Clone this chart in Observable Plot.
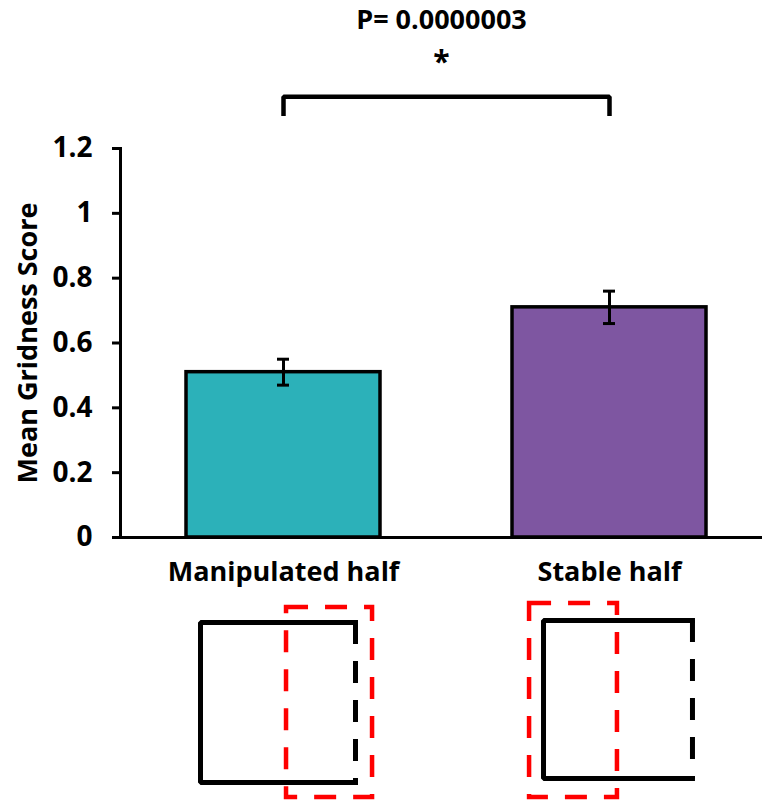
<!DOCTYPE html>
<html>
<head>
<meta charset="utf-8">
<script src="https://cdn.jsdelivr.net/npm/d3@7"></script>
<script src="https://cdn.jsdelivr.net/npm/@observablehq/plot@0.6"></script>
<style>
  html, body { margin: 0; padding: 0; background: #fff; }
  #chart svg { display: block; }
</style>
</head>
<body>
<div id="chart"></div>
<script>
// ---- data ----
const categories = ["Manipulated half", "Stable half"];
const means = [0.51, 0.71];
const errors = [0.04, 0.05];
const barColors = ["#2cb1b9", "#7e56a1"];
const yTicks = [0, 0.2, 0.4, 0.6, 0.8, 1, 1.2];
const yLabel = "Mean Gridness Score";
const pLabel = "P= 0.0000003";
const sigMark = "*";

// annotation levels (in y units)
const bracketY = 1.36;
const bracketDrop = 0.06;
const starY = 1.465;
const pY = 1.595;

const data = categories.map((c, i) => ({cat: c, mean: means[i], err: errors[i]}));
const bracket = [
  {cat: categories[0], y: bracketY - bracketDrop},
  {cat: categories[0], y: bracketY},
  {cat: categories[1], y: bracketY},
  {cat: categories[1], y: bracketY - bracketDrop}
];

const font = "'Open Sans', 'DejaVu Sans', sans-serif";

const main = Plot.plot({
  width: 762,
  height: 595,
  marginTop: 148,
  marginBottom: 58,
  marginLeft: 120,
  marginRight: 0,
  style: {fontFamily: font, fontWeight: "bold", color: "#000", background: "#fff", overflow: "visible"},
  x: {domain: categories, paddingInner: 0.406, paddingOuter: 0.186, align: 0.543, axis: null},
  y: {domain: [0, 1.2], axis: null},
  color: {domain: categories, range: barColors},
  marks: [
    Plot.barY(data, {x: "cat", y: "mean", fill: "cat", stroke: "#000", strokeWidth: 3.5, strokeLinejoin: "miter"}),
    Plot.ruleY([0], {stroke: "#000", strokeWidth: 3}),
    Plot.frame({anchor: "left", stroke: "#000", strokeWidth: 3}),
    Plot.axisY({ticks: yTicks, tickSize: 8, tickPadding: 20, strokeWidth: 3, fontSize: 28,
                tickFormat: d => String(+d.toFixed(1)), label: null}),
    Plot.ruleX(data, {x: "cat", y1: d => d.mean - d.err, y2: d => d.mean + d.err, stroke: "#000", strokeWidth: 3}),
    Plot.tickY(data, {x: "cat", y: d => d.mean - d.err, stroke: "#000", strokeWidth: 3, inset: 91}),
    Plot.tickY(data, {x: "cat", y: d => d.mean + d.err, stroke: "#000", strokeWidth: 3, inset: 91}),
    Plot.line(bracket, {x: "cat", y: "y", stroke: "#000", strokeWidth: 4.5, strokeLinejoin: "miter", strokeLinecap: "butt"}),
    Plot.text([sigMark], {y: starY, text: d => d, fontSize: 30, fill: "#000"}),
    Plot.text([pLabel], {y: pY, text: d => d, fontSize: 27, fill: "#000"}),
    Plot.text(categories, {x: d => d, text: d => d, frameAnchor: "bottom", dy: 43, fontSize: 27, fill: "#000"}),
    Plot.text([yLabel], {frameAnchor: "left", dx: -92, rotate: -90, textAnchor: "middle", text: d => d, fontSize: 27, fill: "#000"})
  ]
});

// ---- schematic arenas under the bars (arena units) ----
const arenas = [
  {panel: categories[0], x1: 0, x2: 1, y1: 0, y2: 1},
  {panel: categories[1], x1: 2.213, x2: 3.174, y1: -0.013, y2: 0.975}
];
const highlights = [
  {panel: categories[0], x1: 0.555, x2: 1.11, y1: -0.094, y2: 1.094},
  {panel: categories[1], x1: 2.123, x2: 2.69, y1: -0.119, y2: 1.094}
];
const solidWalls = arenas.flatMap(a => [
  {panel: a.panel, x: a.x2, y: a.y1},
  {panel: a.panel, x: a.x1, y: a.y1},
  {panel: a.panel, x: a.x1, y: a.y2},
  {panel: a.panel, x: a.x2, y: a.y2}
]);

const diagram = Plot.plot({
  width: 762,
  height: 205,
  margin: 0,
  style: {background: "#fff", overflow: "visible"},
  x: {domain: [0, 1], range: [200, 355], axis: null},
  y: {domain: [0, 1], range: [27, 187], axis: null},
  marks: [
    Plot.line(solidWalls, {x: "x", y: "y", z: "panel", stroke: "#000", strokeWidth: 5, strokeLinejoin: "miter", strokeLinecap: "square"}),
    Plot.ruleX(arenas, {x: "x2", y1: "y1", y2: "y2", stroke: "#000", strokeWidth: 5, strokeDasharray: "22,17"}),
    Plot.rect(highlights, {x1: "x1", x2: "x2", y1: "y1", y2: "y2", fill: "none", stroke: "#ff0000", strokeWidth: 4.5, strokeDasharray: "22,17"})
  ]
});

const chart = document.getElementById("chart");
chart.append(main, diagram);
</script>
</body>
</html>
